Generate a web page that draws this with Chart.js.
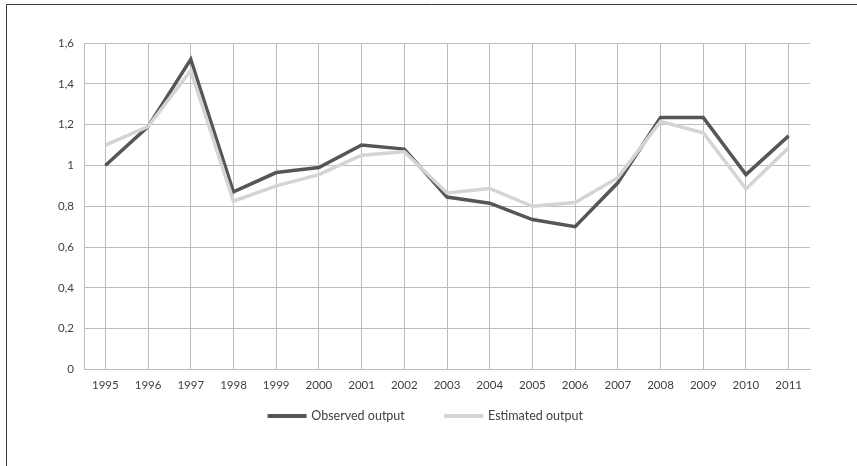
<!DOCTYPE html>
<html>
<head>
<meta charset="utf-8">
<script src="https://cdn.jsdelivr.net/npm/chart.js@4/dist/chart.umd.min.js"></script>
<style>
  html, body { margin: 0; padding: 0; background: #ffffff; }
  #wrap { position: relative; width: 857px; height: 466px; }
  canvas { display: block; }
</style>
</head>
<body>
<div id="wrap"><canvas id="c" width="857" height="466"></canvas></div>
<script>
const years = ["1995","1996","1997","1998","1999","2000","2001","2002","2003","2004","2005","2006","2007","2008","2009","2010","2011"];
const observedOutput = [1.00, 1.19, 1.52, 0.87, 0.965, 0.99, 1.10, 1.08, 0.845, 0.815, 0.735, 0.70, 0.915, 1.235, 1.235, 0.955, 1.145];
const estimatedOutput = [1.10, 1.19, 1.465, 0.825, 0.90, 0.955, 1.05, 1.067, 0.865, 0.887, 0.80, 0.818, 0.94, 1.215, 1.16, 0.885, 1.087];
const yTicks = [0, 0.2, 0.4, 0.6, 0.8, 1.0, 1.2, 1.4, 1.6];

const FONT = "Lato";
const TEXT = "#404040";
const LEGEND_FONT = 12.5;
const LEGEND_PAD = 41;

const framePlugin = {
  id: "frame",
  afterLayout(chart) {
    const lg = chart.legend;
    if (!lg) return;
    // place the legend row like the reference (centred at x≈426, y≈416)
    lg.left = 0;
    lg.right = 852;
    lg.top = 416 - LEGEND_PAD - LEGEND_FONT / 2;
    lg.bottom = lg.top + lg.height;
  },
  afterDraw(chart) {
    const ctx = chart.ctx;
    ctx.save();
    ctx.strokeStyle = "#3a3a3a";
    ctx.lineWidth = 1;
    ctx.beginPath();
    ctx.moveTo(6.5, 466);
    ctx.lineTo(6.5, 4.5);
    ctx.lineTo(857, 4.5);
    ctx.stroke();
    ctx.restore();
  }
};

new Chart(document.getElementById("c"), {
  type: "line",
  data: {
    labels: years,
    datasets: [
      {
        label: "Observed output",
        data: observedOutput,
        borderColor: "#565656",
        backgroundColor: "#565656",
        borderWidth: 3.5,
        pointRadius: 0,
        tension: 0,
        order: 1
      },
      {
        label: "Estimated output",
        data: estimatedOutput,
        borderColor: "#d4d4d4",
        backgroundColor: "#d4d4d4",
        borderWidth: 3.5,
        pointRadius: 0,
        tension: 0,
        order: 0
      }
    ]
  },
  options: {
    responsive: false,
    animation: false,
    layout: { padding: { left: 0, right: 47, top: 43, bottom: 2 } },
    plugins: {
      tooltip: { enabled: false },
      legend: {
        position: "bottom",
        labels: {
          font: { family: FONT, size: LEGEND_FONT },
          color: TEXT,
          boxWidth: 36,
          boxHeight: 1,
          padding: LEGEND_PAD,
          generateLabels: (chart) =>
            Chart.defaults.plugins.legend.labels.generateLabels(chart).map(it => ({ ...it, lineWidth: 3, lineCap: "round" })),
          sort: (a, b) => a.datasetIndex - b.datasetIndex
        }
      }
    },
    scales: {
      x: {
        offset: true,
        grid: { offset: false, color: "#bdbdbd", lineWidth: 1, drawTicks: false },
        border: { color: "#bdbdbd", width: 1 },
        ticks: { font: { family: FONT, size: 11.5 }, color: TEXT, padding: 9, maxRotation: 0, autoSkip: false },
        afterFit(scale) { scale.height = 31; }
      },
      y: {
        min: 0,
        max: 1.6,
        grid: { color: "#bdbdbd", lineWidth: 1, drawTicks: false },
        border: { color: "#bdbdbd", width: 1 },
        afterBuildTicks(scale) { scale.ticks = yTicks.map(v => ({ value: v })); },
        ticks: {
          font: { family: FONT, size: 11.5 },
          color: TEXT,
          padding: 10,
          callback: (v) => String(Number(v.toFixed(1))).replace(".", ",")
        },
        afterFit(scale) { scale.width = 84; }
      }
    }
  },
  plugins: [framePlugin]
});
</script>
</body>
</html>
